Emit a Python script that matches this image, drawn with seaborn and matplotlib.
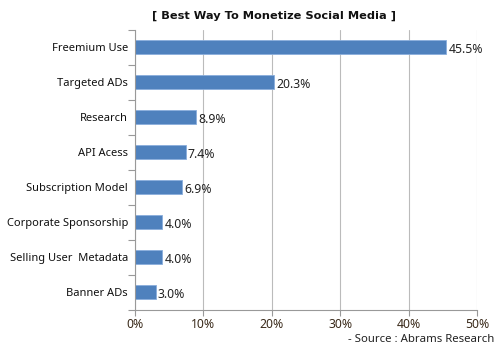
import numpy as np
import pandas as pd
import seaborn as sns
import matplotlib.pyplot as plt

## data
categories = ['Freemium Use', 'Targeted ADs', 'Research', 'API Acess',
              'Subscription Model', 'Corporate Sponsorship',
              'Selling User  Metadata', 'Banner ADs']
values = [45.5, 20.3, 8.9, 7.4, 6.9, 4.0, 4.0, 3.0]
xticks = [0, 10, 20, 30, 40, 50]

df = pd.DataFrame({'category': categories, 'value': values})

## plot
sns.set_style('white')
plt.rcParams['font.family'] = ['Noto Sans', 'DejaVu Sans']

fig, ax = plt.subplots(figsize=(5, 3.52), dpi=100)
fig.subplots_adjust(left=0.27, right=0.954, top=0.915, bottom=0.12)

sns.barplot(data=df, x='value', y='category', color='#4F81BD', saturation=1,
            edgecolor='#8AAEDC', linewidth=0.6, width=0.4, ax=ax)

for i, v in enumerate(values):
    ax.text(v + 0.3, i + 0.07, f'{v:.1f}%', va='center', ha='left',
            fontsize=8.8, color='#222222')

ax.set_xlim(0, 50)
ax.set_ylim(7.5, -0.5)
ax.set_xticks(xticks)
ax.set_xticklabels([f'{t}%' for t in xticks], fontsize=8.8, color='#3a2a1a')
ax.tick_params(axis='y', labelsize=8, length=0, pad=5, labelcolor='#111111')
ax.set_yticks(np.arange(-0.5, 8, 1), minor=True)
ax.tick_params(axis='y', which='minor', left=True, length=5,
               color='#999999', width=0.8)
ax.tick_params(axis='x', bottom=True, length=4, color='#999999', width=0.8,
               pad=2)
ax.set_xlabel('')
ax.set_ylabel('')
ax.grid(axis='x', color='#BBBBBB', linewidth=0.8)
ax.set_axisbelow(True)
for s in ['top', 'right']:
    ax.spines[s].set_visible(False)
for s in ['left', 'bottom']:
    ax.spines[s].set_color('#999999')
    ax.spines[s].set_linewidth(0.8)

fig.text(0.548, 0.955, '[ Best Way To Monetize Social Media ]', ha='center',
         va='center', fontsize=8.2, fontweight='bold', color='#111111',
         family='DejaVu Sans')
fig.text(0.988, 0.035, '- Source : Abrams Research', ha='right',
         va='center', fontsize=8.2, color='#222222')

fig.savefig('out.png', dpi=100)
